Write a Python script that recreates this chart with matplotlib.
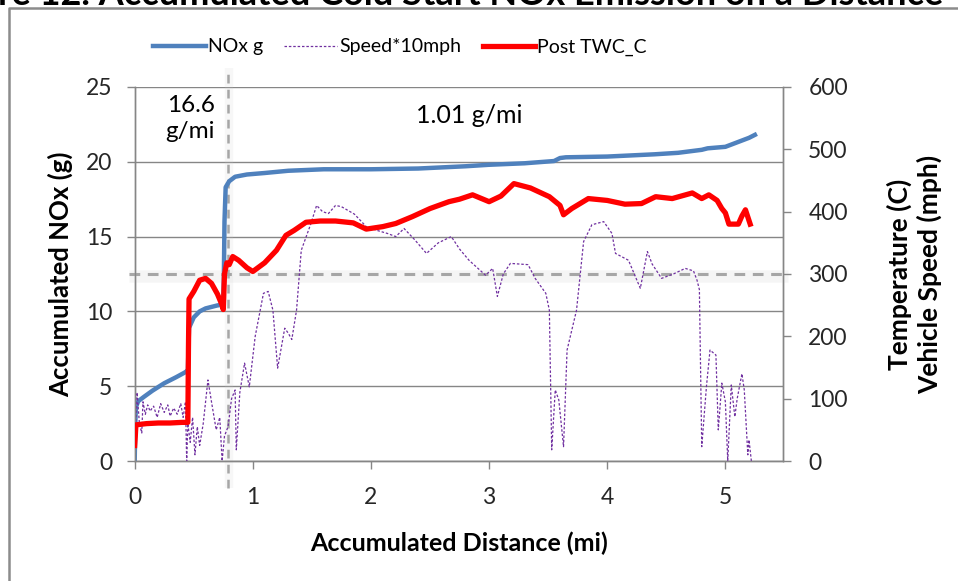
import matplotlib
matplotlib.use("Agg")
import matplotlib.pyplot as plt
from matplotlib.lines import Line2D

plt.rcParams['font.family'] = ['Lato', 'DejaVu Sans']

# accumulated NOx (g) vs distance (mi)
nox_dist = [0.00, 0.005, 0.01, 0.03, 0.08, 0.15, 0.25, 0.35, 0.42, 0.44,
            0.45, 0.46, 0.50, 0.55, 0.60, 0.70, 0.75, 0.755, 0.76, 0.77,
            0.80, 0.85, 0.95, 1.10, 1.30, 1.60, 2.00, 2.40, 2.80, 3.00,
            3.30, 3.55, 3.60, 3.65, 4.00, 4.40, 4.60, 4.80, 4.85, 5.00,
            5.10, 5.20, 5.25]
nox_g = [0.0, 2.5, 3.6, 4.0, 4.3, 4.7, 5.2, 5.6, 5.9, 6.0,
         6.0, 8.9, 9.6, 10.0, 10.2, 10.4, 10.45, 12.5, 16.0, 18.3,
         18.7, 19.0, 19.15, 19.25, 19.4, 19.5, 19.5, 19.55, 19.7, 19.8,
         19.9, 20.05, 20.25, 20.3, 20.35, 20.5, 20.6, 20.8, 20.9, 21.0,
         21.3, 21.6, 21.8]

# post TWC temperature (C)
temp_dist = [0.00, 0.005, 0.01, 0.10, 0.20, 0.30, 0.40, 0.45, 0.455, 0.46,
             0.50, 0.55, 0.60, 0.65, 0.70, 0.74, 0.75, 0.76, 0.78, 0.80,
             0.83, 0.88, 0.95, 1.00, 1.10, 1.20, 1.28, 1.35, 1.45, 1.57,
             1.70, 1.85, 1.96, 2.10, 2.21, 2.35, 2.50, 2.66, 2.75, 2.86,
             3.00, 3.10, 3.21, 3.35, 3.51, 3.60, 3.63, 3.70, 3.84, 4.00,
             4.15, 4.29, 4.41, 4.55, 4.72, 4.80, 4.86, 4.93, 4.97, 5.00,
             5.03, 5.11, 5.14, 5.17, 5.21]
temp_c = [25, 40, 58, 60, 61, 61, 62, 62, 180, 260,
          272, 290, 293, 285, 268, 250, 243, 300, 318, 315,
          328, 322, 310, 304, 318, 338, 362, 370, 383, 385,
          385, 382, 372, 376, 381, 392, 405, 416, 420, 427,
          416, 425, 445, 438, 424, 410, 395, 405, 421, 418,
          412, 413, 424, 421, 430, 421, 427, 418, 405, 398,
          380, 380, 393, 403, 380]

# vehicle speed * 10 (mph)
speed_dist = [0.00, 0.01, 0.02, 0.04, 0.06, 0.07, 0.09, 0.11, 0.13, 0.16,
              0.19, 0.22, 0.25, 0.28, 0.30, 0.33, 0.36, 0.39, 0.41, 0.43,
              0.44, 0.45, 0.47, 0.49, 0.51, 0.53, 0.55, 0.58, 0.62, 0.65,
              0.69, 0.72, 0.74, 0.76, 0.79, 0.82, 0.85, 0.86, 0.89, 0.93,
              0.97, 1.02, 1.09, 1.13, 1.17, 1.21, 1.27, 1.30, 1.33, 1.37,
              1.41, 1.49, 1.54, 1.59, 1.64, 1.70, 1.75, 1.86, 1.96, 2.05,
              2.14, 2.21, 2.28, 2.37, 2.47, 2.57, 2.68, 2.75, 2.83, 2.90,
              2.97, 3.03, 3.07, 3.12, 3.18, 3.33, 3.39, 3.48, 3.51, 3.53,
              3.56, 3.59, 3.63, 3.66, 3.74, 3.80, 3.87, 3.97, 4.04, 4.07,
              4.18, 4.28, 4.34, 4.38, 4.46, 4.56, 4.66, 4.73, 4.76, 4.78,
              4.80, 4.84, 4.87, 4.92, 4.94, 4.97, 5.00, 5.02, 5.05, 5.08,
              5.10, 5.14, 5.16, 5.19, 5.20, 5.22]
speed_x10 = [0, 60, 110, 60, 45, 95, 75, 90, 80, 88,
             70, 92, 78, 90, 72, 85, 75, 92, 70, 95,
             0, 60, 30, 70, 10, 55, 25, 60, 130, 95,
             50, 70, 0, 40, 55, 100, 114, 18, 110, 157,
             119, 200, 269, 272, 242, 149, 213, 205, 195, 242,
             338, 380, 410, 400, 397, 410, 408, 396, 376, 370,
             365, 360, 373, 355, 333, 350, 360, 340, 322, 310,
             298, 309, 264, 300, 317, 315, 293, 269, 242, 18,
             114, 98, 23, 178, 242, 352, 379, 384, 365, 333,
             322, 277, 336, 316, 293, 300, 309, 305, 290, 275,
             23, 120, 178, 170, 50, 125, 95, 0, 122, 71,
             100, 140, 114, 10, 34, 0]

cold_start_end = 0.79     # mi, vertical divider
light_off_temp = 300      # C, horizontal reference
left_ticks = [0, 5, 10, 15, 20, 25]
right_ticks = [0, 100, 200, 300, 400, 500, 600]
x_ticks = [0, 1, 2, 3, 4, 5]

grid_grey = "#868686"
dash_grey = "#a6a6a6"

fig = plt.figure(figsize=(9.58, 5.81), dpi=100)
ax = fig.add_axes([0.1406, 0.2065, 0.677, 0.6438])
ax2 = ax.twinx()

# page frame and the caption, cut at the top edge as in the source page
fig.add_artist(Line2D([0.009, 0.009, 1.0], [0.0, 0.986, 0.986],
                      transform=fig.transFigure, color="#8c8c8c", lw=1.8))
fig.text(-0.002, 0.9915, "re 12. Accumulated Cold Start NOx Emission on a Distance",
         fontsize=26, fontweight="bold", ha="left", va="baseline")

ax.plot(nox_dist, nox_g, color="#4F81BD", lw=3.2, zorder=3)
ax2.plot(speed_dist, speed_x10, color="#7030A0", lw=0.9, ls=(0, (2, 1.5)), zorder=2)
ax2.plot(temp_dist, temp_c, color="#FF0000", lw=3.8, zorder=4)

# reference lines, each with a faint blurred band under it
ax2.plot([-0.05, 5.53], [light_off_temp - 4, light_off_temp - 4], color="#cccccc",
         lw=9, alpha=0.18, solid_capstyle="butt", clip_on=False, zorder=1)
ax2.plot([-0.05, 5.53], [light_off_temp, light_off_temp], color=dash_grey, lw=2.2,
         ls=(0, (3.5, 2.5)), clip_on=False, zorder=1)
ax.plot([cold_start_end + 0.01, cold_start_end + 0.01], [-1.8, 26.3], color="#cccccc",
        lw=6, alpha=0.15, solid_capstyle="butt", clip_on=False, zorder=1)
ax.plot([cold_start_end, cold_start_end], [-1.8, 26.3], color=dash_grey, lw=1.8,
        ls=(0, (3.5, 2.5)), clip_on=False, zorder=1)

ax.set_xlim(0, 5.49)
ax.set_ylim(0, 25)
ax2.set_ylim(0, 600)
ax.set_xticks(x_ticks)
ax.set_yticks(left_ticks)
ax2.set_yticks(right_ticks)

ax.yaxis.grid(True, color=grid_grey, lw=1.0)
ax.set_axisbelow(True)
for a in (ax, ax2):
    for s in a.spines.values():
        s.set_color(grid_grey)
        s.set_linewidth(1.0)
    a.spines["top"].set_visible(False)
    a.tick_params(colors=grid_grey, labelcolor="#262626", labelsize=16.5,
                  length=6, width=1.0, direction="out")
ax.tick_params(axis="y", pad=10)
ax2.tick_params(axis="y", pad=12)
ax.tick_params(axis="x", pad=13)

ax.set_ylabel("Accumulated NOx (g)", fontsize=18.5, fontweight="bold", labelpad=9)
ax.set_xlabel("Accumulated Distance (mi)", fontsize=18, fontweight="bold", labelpad=17)
ax2.set_ylabel("Temperature (C)\nVehicle Speed (mph)", fontsize=19, fontweight="bold",
               labelpad=28, multialignment="center", linespacing=1.2)

ax.text(0.68, 22.9, "16.6\ng/mi", fontsize=17.5, ha="right", va="center",
        linespacing=1.25)
ax.text(2.83, 23.1, "1.01 g/mi", fontsize=18, ha="center", va="center")

handles = [Line2D([], [], color="#4F81BD", lw=3.2),
           Line2D([], [], color="#7030A0", lw=0.9, ls=(0, (2, 1.5))),
           Line2D([], [], color="#FF0000", lw=3.8)]
fig.legend(handles, ["NOx g", "Speed*10mph", "Post TWC_C"], loc="center",
           bbox_to_anchor=(0.4175, 0.919), ncol=3, frameon=False, fontsize=14,
           handlelength=2.7, handletextpad=0.12, columnspacing=1.1)

fig.savefig("out.png", dpi=100)
